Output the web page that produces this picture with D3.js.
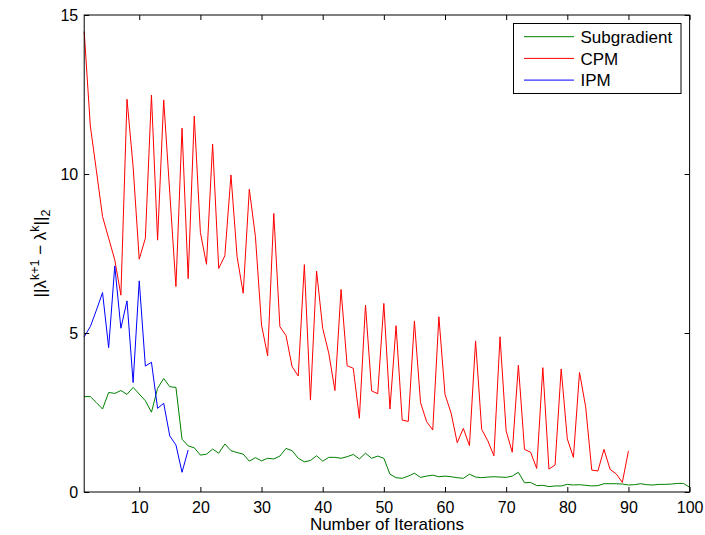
<!DOCTYPE html>
<html>
<head>
<meta charset="utf-8">
<script src="https://cdn.jsdelivr.net/npm/d3@7"></script>
<style>
  html, body { margin: 0; padding: 0; background: #fff; }
  svg { display: block; font-family: "Liberation Sans", Arial, Helvetica, sans-serif; }
</style>
</head>
<body>
<svg id="chart" width="705" height="535"></svg>
<script>
// Norm of successive multiplier differences per iteration, three methods
const subgradient = [
  3.00, 3.00, 2.81, 2.61, 3.13, 3.10, 3.19, 3.07, 3.29, 3.08,
  2.87, 2.51, 3.26, 3.57, 3.31, 3.29, 1.66, 1.45, 1.39, 1.16,
  1.19, 1.35, 1.22, 1.51, 1.30, 1.24, 1.19, 0.97, 1.08, 0.98,
  1.06, 1.04, 1.13, 1.37, 1.30, 1.06, 0.95, 0.99, 1.14, 0.97,
  1.09, 1.09, 1.06, 1.11, 1.18, 1.04, 1.22, 1.06, 1.13, 1.06,
  0.56, 0.45, 0.43, 0.50, 0.59, 0.46, 0.50, 0.53, 0.48, 0.50,
  0.48, 0.45, 0.43, 0.56, 0.47, 0.45, 0.47, 0.48, 0.47, 0.46,
  0.50, 0.62, 0.29, 0.30, 0.20, 0.21, 0.17, 0.19, 0.19, 0.24,
  0.22, 0.23, 0.21, 0.19, 0.20, 0.26, 0.26, 0.26, 0.25, 0.22,
  0.23, 0.26, 0.23, 0.22, 0.24, 0.24, 0.25, 0.27, 0.27, 0.15
];
const cpm = [
  14.48, 11.51, 10.10, 8.66, 7.98, 7.30, 6.19, 12.35, 10.23, 7.32,
  7.98, 12.48, 7.92, 12.33, 9.39, 6.46, 11.44, 6.71, 11.82, 8.16,
  7.16, 10.94, 7.03, 7.43, 9.97, 7.40, 6.25, 9.52, 8.03, 5.25,
  4.28, 8.76, 5.20, 4.92, 3.94, 3.65, 7.15, 2.89, 6.95, 5.15,
  4.36, 3.19, 6.37, 3.97, 3.89, 2.32, 5.88, 3.18, 3.09, 5.93,
  2.61, 5.23, 2.26, 2.22, 5.38, 2.81, 2.21, 1.95, 5.51, 3.07,
  2.48, 1.55, 2.00, 1.46, 4.75, 1.97, 1.61, 1.14, 4.88, 1.92,
  1.25, 3.99, 1.34, 1.25, 0.74, 3.91, 0.72, 0.85, 3.87, 1.67,
  1.09, 3.76, 2.68, 0.69, 0.66, 1.34, 0.71, 0.57, 0.30, 1.29
];
const ipm = [
  4.88, 5.20, 5.72, 6.27, 4.54, 7.11, 5.15, 6.01, 3.44, 6.64,
  3.96, 4.08, 2.63, 2.79, 1.76, 1.48, 0.62, 1.32
];

const seriesNames = ["Subgradient", "CPM", "IPM"];
const seriesColors = ["#008000", "#ff0000", "#0000ff"];
const xTicks = [10, 20, 30, 40, 50, 60, 70, 80, 90, 100];
const yTicks = [0, 5, 10, 15];
const xLabel = "Number of Iterations";

const svg = d3.select("#chart");
const plotL = 84.2, plotR = 689.6, plotT = 15, plotB = 492;

const x = d3.scaleLinear().domain([1, 100]).range([plotL, plotR]);
const y = d3.scaleLinear().domain([0, 15]).range([plotB, plotT]);

// Data lines
const line = d3.line().x((d, i) => x(i + 1)).y(d => y(d));
const allSeries = [subgradient, cpm, ipm];
const plot = svg.append("g");
allSeries.forEach((s, k) => {
  plot.append("path")
    .datum(s)
    .attr("fill", "none")
    .attr("stroke", seriesColors[k])
    .attr("stroke-width", 1)
    .attr("stroke-linejoin", "round")
    .attr("d", line);
});

// Axes: ticks point inward on all four sides
const tickLen = 5;
const axisColor = "#000";
function styleAxis(g) {
  g.select(".domain").remove();
  g.selectAll(".tick line").attr("stroke", axisColor).attr("stroke-width", 1);
  g.selectAll(".tick text")
    .attr("fill", "#000")
    .attr("font-size", 16)
    .attr("font-family", "Liberation Sans, Arial, Helvetica, sans-serif");
}
svg.append("g")
  .attr("transform", `translate(0,${plotB})`)
  .call(d3.axisBottom(x).tickValues(xTicks).tickSize(-tickLen).tickPadding(10))
  .call(styleAxis);
svg.append("g")
  .attr("transform", `translate(0,${plotT})`)
  .call(d3.axisTop(x).tickValues(xTicks).tickSize(-tickLen).tickFormat(""))
  .call(styleAxis);
svg.append("g")
  .attr("transform", `translate(${plotL},0)`)
  .call(d3.axisLeft(y).tickValues(yTicks).tickSize(-tickLen).tickPadding(6))
  .call(styleAxis);
svg.append("g")
  .attr("transform", `translate(${plotR},0)`)
  .call(d3.axisRight(y).tickValues(yTicks).tickSize(-tickLen).tickFormat(""))
  .call(styleAxis);

// Axes box
svg.append("rect")
  .attr("x", plotL).attr("y", plotT)
  .attr("width", plotR - plotL).attr("height", plotB - plotT)
  .attr("fill", "none").attr("stroke", axisColor).attr("stroke-width", 1);

// X axis title
svg.append("text")
  .attr("x", (plotL + plotR) / 2).attr("y", 530)
  .attr("text-anchor", "middle")
  .attr("font-size", 17)
  .text(xLabel);

// Y axis title: ||λ^{k+1} − λ^{k}||_2
const yl = svg.append("text")
  .attr("transform", `translate(46,${(plotT + plotB) / 2}) rotate(-90)`)
  .attr("text-anchor", "middle")
  .attr("font-size", 17);
yl.append("tspan").text("||λ");
yl.append("tspan").attr("font-size", 12.5).attr("dy", -7).text("k+1");
yl.append("tspan").attr("dy", 7).text(" − λ");
yl.append("tspan").attr("font-size", 12.5).attr("dy", -7).text("k");
yl.append("tspan").attr("dy", 7).text("||");
yl.append("tspan").attr("font-size", 12.5).attr("dy", 4).text("2");

// Legend
const lg = svg.append("g");
lg.append("rect")
  .attr("x", 513.5).attr("y", 23.5)
  .attr("width", 167.5).attr("height", 70)
  .attr("fill", "#fff").attr("stroke", "#000").attr("stroke-width", 1);
seriesNames.forEach((name, k) => {
  const ry = 36.7 + k * 21.7;
  lg.append("line")
    .attr("x1", 524).attr("x2", 574)
    .attr("y1", ry).attr("y2", ry)
    .attr("stroke", seriesColors[k]).attr("stroke-width", 1);
  lg.append("text")
    .attr("x", 580.5).attr("y", ry + 6.2)
    .attr("font-size", 17)
    .text(name);
});
</script>
</body>
</html>
